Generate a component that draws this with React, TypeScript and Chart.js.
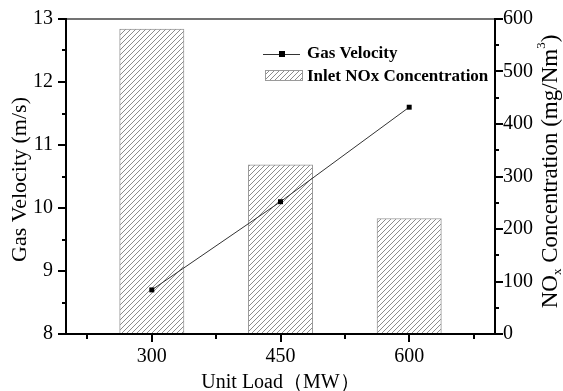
import { useEffect, useRef } from "react";
import { Chart, registerables } from "chart.js";

Chart.register(...registerables);

const unitLoads = [300, 450, 600];
const gasVelocity = [8.7, 10.1, 11.6];
const inletNOx = [581, 322, 220];
const xTickValues = [225, 300, 375, 450, 525, 600, 675];
const xLabelValues = [300, 450, 600];
const xTitle = "Unit Load（MW）";
const leftTitle = "Gas Velocity (m/s)";
const lineLabel = "Gas Velocity";
const barLabel = "Inlet NOx Concentration";

const SERIF = "'Liberation Serif', 'Times New Roman', serif";

function makeHatch(): CanvasPattern | string {
  const s = 5;
  const c = document.createElement("canvas");
  c.width = s;
  c.height = s;
  const g = c.getContext("2d");
  if (!g) return "#ccc";
  g.fillStyle = "#ffffff";
  g.fillRect(0, 0, s, s);
  g.strokeStyle = "#8c8c8c";
  g.lineWidth = 1;
  g.beginPath();
  g.moveTo(-1, s + 1);
  g.lineTo(s + 1, -1);
  g.moveTo(-1, 1);
  g.lineTo(1, -1);
  g.moveTo(s - 1, s + 1);
  g.lineTo(s + 1, s - 1);
  g.stroke();
  const p = g.createPattern(c, "repeat");
  return p || "#ccc";
}

const framePlugin = {
  id: "framePlugin",
  afterDraw(chart: any) {
    const { ctx, chartArea } = chart;
    const { left, right, top, bottom } = chartArea;
    const y = chart.scales.y;
    const y2 = chart.scales.y2;
    const x = chart.scales.x;
    ctx.save();
    // frame
    ctx.strokeStyle = "#444";
    ctx.lineWidth = 1.5;
    ctx.beginPath();
    ctx.moveTo(left, top);
    ctx.lineTo(right, top);
    ctx.stroke();
    ctx.strokeStyle = "#000";
    ctx.lineWidth = 2;
    ctx.beginPath();
    ctx.moveTo(left, top - 1);
    ctx.lineTo(left, bottom);
    ctx.lineTo(right, bottom);
    ctx.lineTo(right, top - 1);
    ctx.stroke();
    // ticks
    ctx.lineWidth = 2;
    ctx.beginPath();
    for (let v = y.min; v <= y.max + 1e-9; v += 0.5) {
      const py = Math.round(y.getPixelForValue(v));
      const len = Math.abs(v - Math.round(v)) < 1e-9 ? 8 : 4;
      ctx.moveTo(left, py);
      ctx.lineTo(left - len, py);
    }
    for (let v = y2.min; v <= y2.max + 1e-9; v += 50) {
      const py = Math.round(y2.getPixelForValue(v));
      const len = v % 100 === 0 ? 8 : 4;
      ctx.moveTo(right, py);
      ctx.lineTo(right + len, py);
    }
    for (const v of xTickValues) {
      const px = Math.round(x.getPixelForValue(v));
      const len = xLabelValues.includes(v) ? 8 : 5;
      ctx.moveTo(px, bottom);
      ctx.lineTo(px, bottom + len);
    }
    ctx.stroke();

    // axis titles
    ctx.fillStyle = "#000";
    ctx.textAlign = "center";
    ctx.textBaseline = "middle";
    ctx.font = `22px ${SERIF}`;
    ctx.save();
    ctx.translate(20, (top + bottom) / 2 + 3);
    ctx.rotate(-Math.PI / 2);
    ctx.fillText(leftTitle, 0, 0);
    ctx.restore();

    ctx.font = `20px ${SERIF}`;
    ctx.fillText(xTitle, (left + right) / 2, 383);

    // right title with sub/superscripts
    const parts: { t: string; size: number; dy: number }[] = [
      { t: "NO", size: 23, dy: 0 },
      { t: "x", size: 13, dy: 7 },
      { t: " Concentration (mg/Nm", size: 23, dy: 0 },
      { t: "3", size: 13, dy: -9 },
      { t: ")", size: 23, dy: 0 },
    ];
    let total = 0;
    for (const p of parts) {
      ctx.font = `${p.size}px ${SERIF}`;
      total += ctx.measureText(p.t).width;
    }
    ctx.save();
    ctx.translate(551, (top + bottom) / 2 - 5);
    ctx.rotate(-Math.PI / 2);
    ctx.textAlign = "left";
    let cx = -total / 2;
    for (const p of parts) {
      ctx.font = `${p.size}px ${SERIF}`;
      ctx.fillText(p.t, cx, p.dy);
      cx += ctx.measureText(p.t).width;
    }
    ctx.restore();

    // legend
    const lineDs = chart.data.datasets[0];
    const barDs = chart.data.datasets[1];
    ctx.strokeStyle = lineDs.borderColor;
    ctx.lineWidth = 1;
    ctx.beginPath();
    ctx.moveTo(263, 54.5);
    ctx.lineTo(300, 54.5);
    ctx.stroke();
    ctx.fillStyle = "#000";
    ctx.fillRect(279, 51, 6, 6);
    ctx.fillStyle = barDs.backgroundColor;
    ctx.fillRect(265, 70, 37, 10);
    ctx.strokeStyle = barDs.borderColor;
    ctx.strokeRect(265.5, 70.5, 37, 10);
    ctx.fillStyle = "#000";
    ctx.textAlign = "left";
    ctx.textBaseline = "middle";
    ctx.font = `bold 17px ${SERIF}`;
    ctx.fillText(lineLabel, 307, 54);
    ctx.fillText(barLabel, 307, 77);
    ctx.restore();
  },
};

export default function App() {
  const ref = useRef<HTMLCanvasElement | null>(null);
  useEffect(() => {
    if (!ref.current) return;
    const hatch = makeHatch();
    const chart = new Chart(ref.current, {
      type: "bar",
      data: {
        datasets: [
          {
            type: "line",
            label: lineLabel,
            data: unitLoads.map((x, i) => ({ x, y: gasVelocity[i] })),
            yAxisID: "y",
            borderColor: "#333",
            borderWidth: 1,
            pointStyle: "rect",
            pointRadius: 3.5,
            pointBackgroundColor: "#000",
            pointBorderColor: "#000",
            pointBorderWidth: 0,
            order: 0,
          } as any,
          {
            type: "bar",
            label: barLabel,
            data: unitLoads.map((x, i) => ({ x, y: inletNOx[i] })),
            yAxisID: "y2",
            backgroundColor: hatch as any,
            borderColor: "#9a9a9a",
            borderWidth: 1,
            barPercentage: 1,
            categoryPercentage: 1,
            order: 1,
          } as any,
        ],
      },
      options: {
        animation: false,
        responsive: false,
        layout: { padding: { top: 19, left: 0, right: 0, bottom: 0 } },
        plugins: { legend: { display: false }, tooltip: { enabled: false } },
        scales: {
          x: {
            type: "linear",
            min: 200,
            max: 700,
            offset: false,
            border: { display: false },
            grid: { display: true, offset: false, drawOnChartArea: false, drawTicks: true, tickLength: 8, tickColor: "rgba(0,0,0,0)" },
            afterBuildTicks: (scale: any) => {
              scale.ticks = xTickValues.map((v) => ({ value: v }));
            },
            afterFit: (scale: any) => {
              scale.height = 57;
            },
            ticks: {
              autoSkip: false,
              maxRotation: 0,
              padding: 3,
              color: "#000",
              font: { family: SERIF, size: 20 },
              callback: (v: any) => (xLabelValues.includes(Number(v)) ? String(v) : ""),
            },
          },
          y: {
            type: "linear",
            position: "left",
            min: 8,
            max: 13,
            border: { display: false },
            grid: { display: true, drawOnChartArea: false, drawTicks: true, tickLength: 8, tickColor: "rgba(0,0,0,0)" },
            afterFit: (scale: any) => {
              scale.width = 66;
            },
            ticks: { stepSize: 1, padding: 5, color: "#000", font: { family: SERIF, size: 20 } },
          },
          y2: {
            type: "linear",
            position: "right",
            min: 0,
            max: 600,
            border: { display: false },
            grid: { display: true, drawOnChartArea: false, drawTicks: true, tickLength: 8, tickColor: "rgba(0,0,0,0)" },
            afterFit: (scale: any) => {
              scale.width = 68;
            },
            ticks: { stepSize: 100, padding: 0, color: "#000", font: { family: SERIF, size: 20 } },
          },
        },
      },
      plugins: [framePlugin],
    });
    return () => chart.destroy();
  }, []);
  return (
    <div style={{ position: "absolute", left: 0, top: 0, width: 563, height: 391, background: "#fff" }}>
      <canvas ref={ref} width={563} height={391} style={{ display: "block" }} />
    </div>
  );
}
